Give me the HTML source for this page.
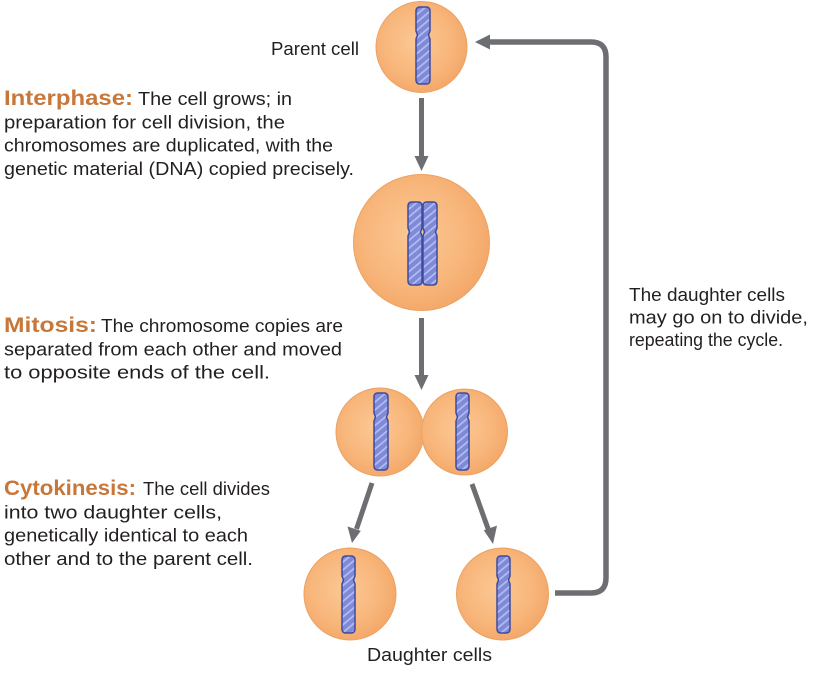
<!DOCTYPE html>
<html>
<head>
<meta charset="utf-8">
<style>
html,body{margin:0;padding:0;background:#fff;}
svg{display:block;}
.t{font-family:"Liberation Sans",sans-serif;font-size:18px;fill:#231f20;}
.h{font-family:"Liberation Sans",sans-serif;font-size:21px;font-weight:bold;fill:#c8773a;}
</style>
</head>
<body>
<svg width="813" height="685" viewBox="0 0 813 685" xmlns="http://www.w3.org/2000/svg">
<defs>
  <radialGradient id="cg" cx="45%" cy="45%" r="58%">
    <stop offset="0" stop-color="#fbc894"/>
    <stop offset="0.65" stop-color="#f8b67b"/>
    <stop offset="1" stop-color="#f3a768"/>
  </radialGradient>
  <pattern id="st" patternUnits="userSpaceOnUse" width="6" height="6" patternTransform="rotate(-40)">
    <rect width="6" height="6" fill="#7e8ad8"/>
    <line x1="0" y1="3" x2="6" y2="3" stroke="#b6c0f2" stroke-width="1.6"/>
  </pattern>
</defs>

<!-- Feedback arrow -->
<path d="M555,593 H591 Q606,593 606,578 V57 Q606,42 591,42 H487" fill="none" stroke="#6d6e71" stroke-width="5.5"/>
<polygon points="475,42 490,34.5 490,49.5" fill="#6d6e71"/>

<!-- Vertical arrows -->
<line x1="421.5" y1="98" x2="421.5" y2="158" stroke="#6d6e71" stroke-width="5"/>
<polygon points="414.5,156 428.5,156 421.5,171" fill="#6d6e71"/>
<line x1="421.5" y1="318" x2="421.5" y2="377" stroke="#6d6e71" stroke-width="5"/>
<polygon points="414.5,375 428.5,375 421.5,390" fill="#6d6e71"/>

<!-- Diagonal arrows -->
<line x1="372" y1="483" x2="356.5" y2="529" stroke="#6d6e71" stroke-width="5"/>
<polygon points="352,543 347.5,526.5 360.8,530.9" fill="#6d6e71"/>
<line x1="472" y1="484" x2="488.5" y2="530" stroke="#6d6e71" stroke-width="5"/>
<polygon points="493,544 483.8,530.2 497,525.6" fill="#6d6e71"/>

<!-- Top cell -->
<circle cx="421.5" cy="47" r="45.5" fill="url(#cg)" stroke="#eba262" stroke-width="1"/>
<path d="M420,7 H426 Q430,7 430,11 V31 L428.5,35 L430,39 V80 Q430,84 426,84 H420 Q416,84 416,80 V39 L417.5,35 L416,31 V11 Q416,7 420,7 Z" fill="url(#st)" stroke="#3f4aa0" stroke-width="1.5"/>

<!-- Middle cell -->
<circle cx="421.5" cy="242.5" r="68" fill="url(#cg)" stroke="#eba262" stroke-width="1"/>
<path d="M412,202 H418 Q422,202 422,206 V228 L420.5,232 L422,236 V281 Q422,285 418,285 H412 Q408,285 408,281 V236 L409.5,232 L408,228 V206 Q408,202 412,202 Z" fill="url(#st)" stroke="#3f4aa0" stroke-width="1.5"/>
<path d="M427,202 H433 Q437,202 437,206 V228 L435.5,232 L437,236 V281 Q437,285 433,285 H427 Q423,285 423,281 V236 L424.5,232 L423,228 V206 Q423,202 427,202 Z" fill="url(#st)" stroke="#3f4aa0" stroke-width="1.5"/>

<!-- Dividing cells -->
<circle cx="380" cy="432" r="44" fill="url(#cg)" stroke="#eba262" stroke-width="1"/>
<circle cx="464.5" cy="432" r="43" fill="url(#cg)" stroke="#eba262" stroke-width="1"/>
<path d="M378,393 H384 Q388,393 388,397 V413 L386.5,417 L388,421 V466 Q388,470 384,470 H378 Q374,470 374,466 V421 L375.5,417 L374,413 V397 Q374,393 378,393 Z" fill="url(#st)" stroke="#3f4aa0" stroke-width="1.5"/>
<path d="M460,393 H465 Q469,393 469,397 V413 L467.5,417 L469,421 V466 Q469,470 465,470 H460 Q456,470 456,466 V421 L457.5,417 L456,413 V397 Q456,393 460,393 Z" fill="url(#st)" stroke="#3f4aa0" stroke-width="1.5"/>

<!-- Daughter cells -->
<circle cx="350" cy="594" r="46" fill="url(#cg)" stroke="#eba262" stroke-width="1"/>
<circle cx="502.5" cy="594" r="46" fill="url(#cg)" stroke="#eba262" stroke-width="1"/>
<path d="M346,556 H351 Q355,556 355,560 V576 L353.5,580 L355,584 V629 Q355,633 351,633 H346 Q342,633 342,629 V584 L343.5,580 L342,576 V560 Q342,556 346,556 Z" fill="url(#st)" stroke="#3f4aa0" stroke-width="1.5"/>
<path d="M501,556 H506 Q510,556 510,560 V576 L508.5,580 L510,584 V629 Q510,633 506,633 H501 Q497,633 497,629 V584 L498.5,580 L497,576 V560 Q497,556 501,556 Z" fill="url(#st)" stroke="#3f4aa0" stroke-width="1.5"/>

<!-- Labels -->
<text class="t" x="271" y="55" textLength="88" lengthAdjust="spacingAndGlyphs">Parent cell</text>
<text class="t" x="367" y="661" textLength="125" lengthAdjust="spacingAndGlyphs">Daughter cells</text>

<!-- Interphase -->
<text class="h" x="4" y="105" textLength="129" lengthAdjust="spacingAndGlyphs">Interphase:</text>
<text class="t" x="138" y="105" textLength="154" lengthAdjust="spacingAndGlyphs">The cell grows; in</text>
<text class="t" x="4" y="128.3" textLength="281" lengthAdjust="spacingAndGlyphs">preparation for cell division, the</text>
<text class="t" x="4" y="151.6" textLength="329" lengthAdjust="spacingAndGlyphs">chromosomes are duplicated, with the</text>
<text class="t" x="4" y="175" textLength="350" lengthAdjust="spacingAndGlyphs">genetic material (DNA) copied precisely.</text>

<!-- Mitosis -->
<text class="h" x="4" y="332" textLength="93" lengthAdjust="spacingAndGlyphs">Mitosis:</text>
<text class="t" x="101" y="332" textLength="242" lengthAdjust="spacingAndGlyphs">The chromosome copies are</text>
<text class="t" x="4" y="355.3" textLength="338" lengthAdjust="spacingAndGlyphs">separated from each other and moved</text>
<text class="t" x="4" y="378.6" textLength="266" lengthAdjust="spacingAndGlyphs">to opposite ends of the cell.</text>

<!-- Cytokinesis -->
<text class="h" x="4" y="495" textLength="132" lengthAdjust="spacingAndGlyphs">Cytokinesis:</text>
<text class="t" x="143" y="495" textLength="127" lengthAdjust="spacingAndGlyphs">The cell divides</text>
<text class="t" x="4" y="518.3" textLength="218" lengthAdjust="spacingAndGlyphs">into two daughter cells,</text>
<text class="t" x="4" y="541.6" textLength="244" lengthAdjust="spacingAndGlyphs">genetically identical to each</text>
<text class="t" x="4" y="565" textLength="249" lengthAdjust="spacingAndGlyphs">other and to the parent cell.</text>

<!-- Right text -->
<text class="t" x="629" y="301" textLength="156" lengthAdjust="spacingAndGlyphs">The daughter cells</text>
<text class="t" x="629" y="323.5" textLength="179" lengthAdjust="spacingAndGlyphs">may go on to divide,</text>
<text class="t" x="629" y="346" textLength="154" lengthAdjust="spacingAndGlyphs">repeating the cycle.</text>
</svg>
</body>
</html>
